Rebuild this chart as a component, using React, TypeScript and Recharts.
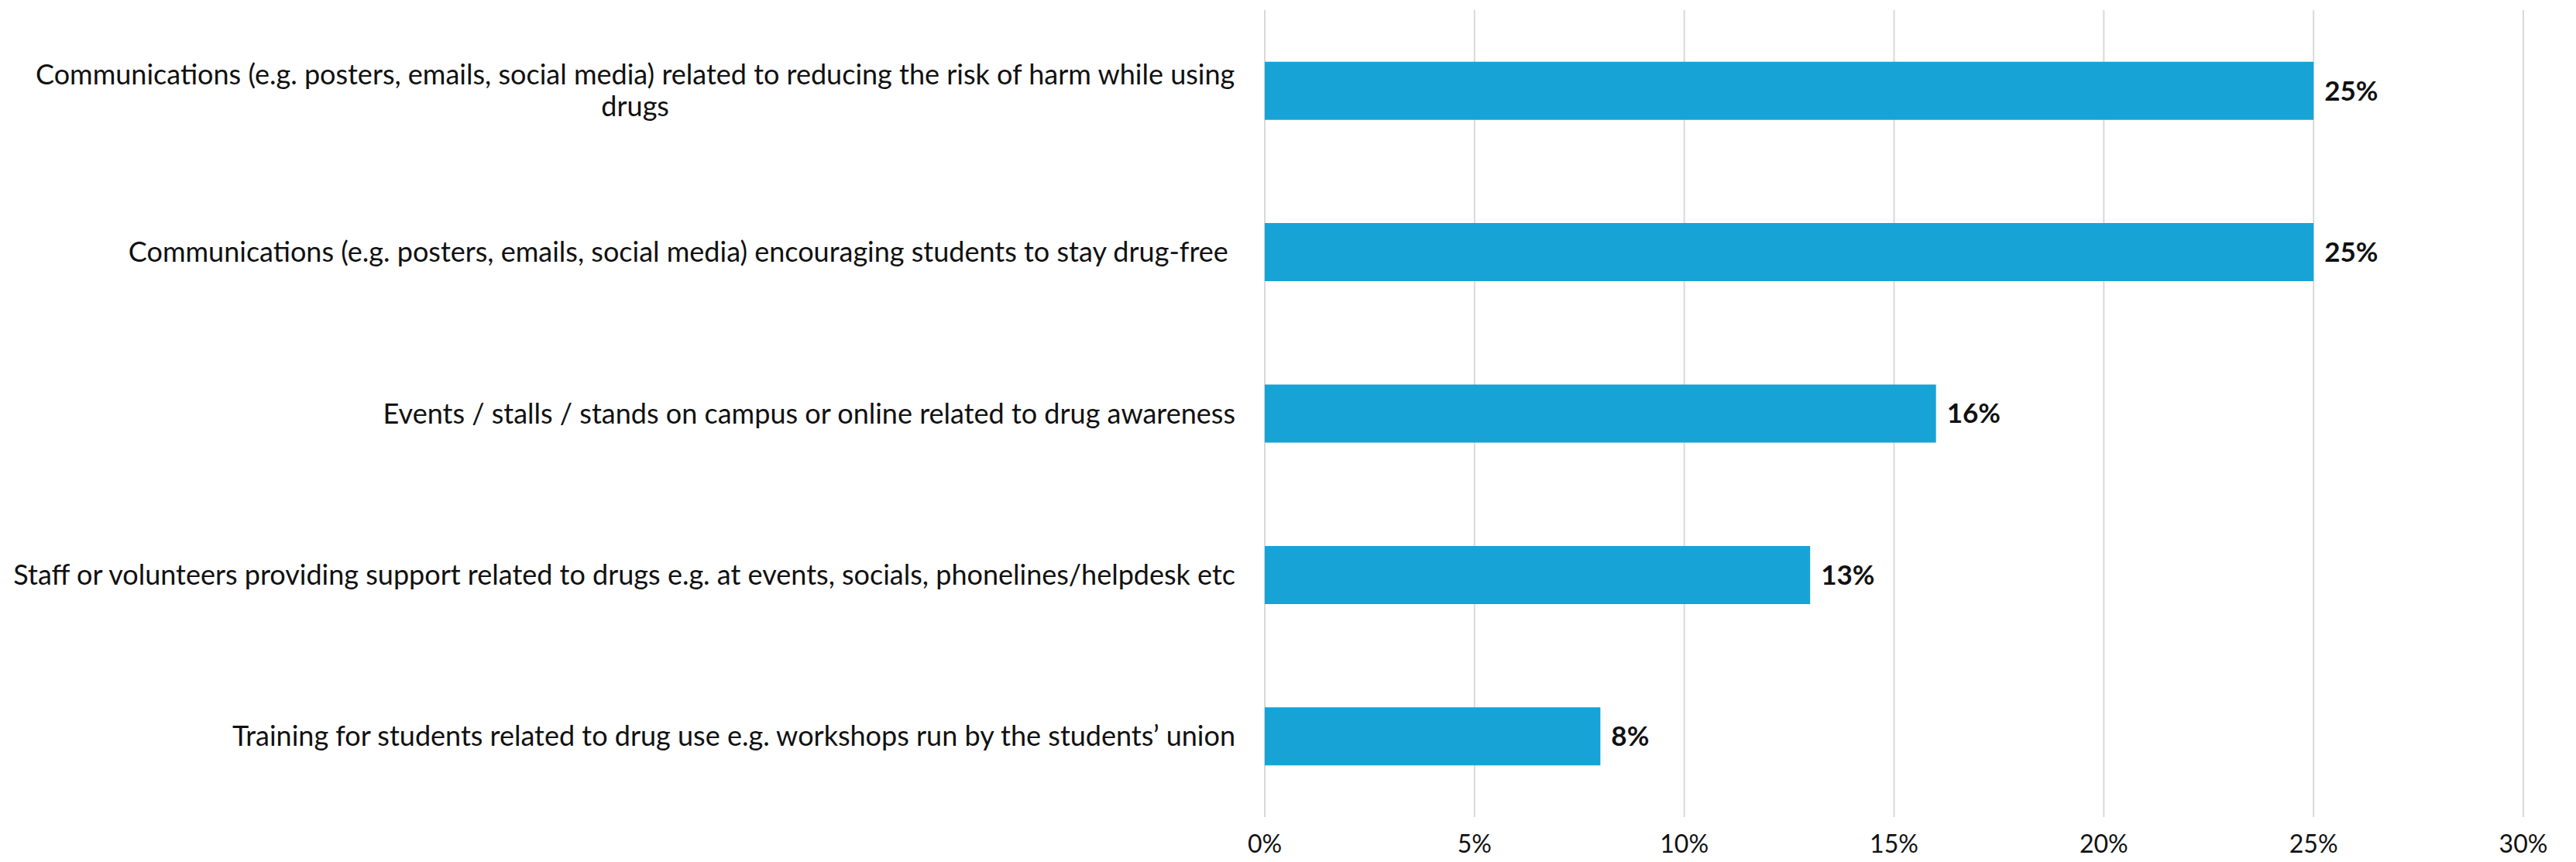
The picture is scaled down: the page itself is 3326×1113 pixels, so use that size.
import { BarChart, Bar, XAxis, YAxis, CartesianGrid, LabelList } from "recharts";

const categories = [
  "Communications (e.g. posters, emails, social media) related to reducing the risk of harm while using drugs",
  "Communications (e.g. posters, emails, social media) encouraging students to stay drug-free ",
  "Events / stalls / stands on campus or online related to drug awareness",
  "Staff or volunteers providing support related to drugs e.g. at events, socials, phonelines/helpdesk etc",
  "Training for students related to drug use e.g. workshops run by the students’ union",
];
const shares = [25, 25, 16, 13, 8];
const xTicks = [0, 5, 10, 15, 20, 25, 30];

const data = categories.map((c, i) => ({ label: c, value: shares[i] }));

const FONT = "Lato, 'Open Sans', sans-serif";
const LABEL_SIZE = 36;
const MAX_LABEL_W = 1590;

let ctx: CanvasRenderingContext2D | null = null;
function measure(s: string) {
  if (!ctx) ctx = document.createElement("canvas").getContext("2d");
  if (!ctx) return s.length * 18;
  ctx.font = `${LABEL_SIZE}px Lato`;
  return ctx.measureText(s).width;
}

function wrap(text: string) {
  const words = text.split(" ");
  const lines: string[] = [];
  let cur = "";
  for (const w of words) {
    const next = cur ? cur + " " + w : w;
    if (cur && measure(next) > MAX_LABEL_W) {
      lines.push(cur);
      cur = w;
    } else cur = next;
  }
  if (cur) lines.push(cur);
  return lines;
}

function CategoryTick(props: any) {
  const { x, y, payload } = props;
  const lines = wrap(payload.value);
  const lh = 41;
  const right = x - 30;
  if (lines.length === 1) {
    return (
      <text x={right} y={y} dy="0.35em" textAnchor="end" fontSize={LABEL_SIZE} fontFamily={FONT} fill="#111" style={{ whiteSpace: "pre" }}>
        {lines[0]}
      </text>
    );
  }
  const w = Math.max(...lines.map(measure));
  const cx = right - w / 2;
  const start = y - ((lines.length - 1) * lh) / 2;
  return (
    <text textAnchor="middle" fontSize={LABEL_SIZE} fontFamily={FONT} fill="#111">
      {lines.map((l, i) => (
        <tspan key={i} x={cx} y={start + i * lh} dy="0.35em">{l}</tspan>
      ))}
    </text>
  );
}

export default function App() {
  return (
    <div style={{ position: "absolute", left: 0, top: 0, background: "#fff" }}>
      <BarChart
        width={3326}
        height={1113}
        data={data}
        layout="vertical"
        margin={{ top: 13, right: 68, bottom: 0, left: 0 }}
        barCategoryGap="32%"
      >
        <CartesianGrid stroke="#d9d9d9" strokeWidth={2} horizontal={false} />
        <XAxis
          type="number"
          domain={[0, 30]}
          ticks={xTicks}
          tickFormatter={(v) => `${v}%`}
          axisLine={false}
          tickLine={false}
          height={58}
          tickMargin={17}
          tick={{ fill: "#111", fontSize: 32, fontFamily: FONT }}
        />
        <YAxis
          type="category"
          dataKey="label"
          width={1633}
          axisLine={false}
          tickLine={false}
          tick={<CategoryTick />}
        />
        <Bar dataKey="value" fill="#17a3d6" isAnimationActive={false}>
          <LabelList
            dataKey="value"
            position="right"
            offset={14}
            formatter={(v: any) => `${v}%`}
            fill="#111"
            fontSize={35}
            fontWeight={700}
            fontFamily={FONT}
          />
        </Bar>
      </BarChart>
    </div>
  );
}
